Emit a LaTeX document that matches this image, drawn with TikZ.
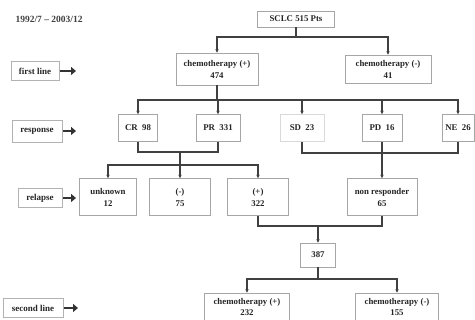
\documentclass[tikz,border=0pt]{standalone}
\usepackage{fontspec}
\setmainfont{Liberation Serif}
\usetikzlibrary{arrows.meta}
\begin{document}
\begin{tikzpicture}[x=1pt,y=-1pt,
  box/.style={draw=black!35,line width=0.6pt,fill=white,inner sep=1pt,align=center,
    font=\fontsize{8.8}{10}\selectfont\bfseries,text=black!85},
  lab/.style={draw=black!30,line width=0.6pt,fill=white,inner sep=1pt,
    font=\fontsize{9}{10}\selectfont\bfseries,text=black!85},
  conn/.style={draw=black!75,line width=1.3pt},
  tip/.style={conn,-{Stealth[length=3.5pt,width=3.5pt]}},
  big/.style={draw=black!80,line width=2.4pt,-{Triangle[length=5pt,width=8pt]}}]
\useasboundingbox (0,0) rectangle (475,320);
% date
\node[font=\fontsize{9.5}{10}\selectfont\bfseries,text=black!75,anchor=west] (date) at (12,19) {1992/7 -- 2003/12};
% nodes
\node[box,minimum width=77pt,minimum height=16pt] (sclc) at (296,19) {SCLC 515 Pts};
\node[box,minimum width=82pt,minimum height=32pt] (c1p) at (217,69) {chemotherapy (+)\\[2pt]474};
\node[box,minimum width=86pt,minimum height=28pt] (c1m) at (388,69) {chemotherapy (-)\\[2pt]41};
\node[box,minimum width=39pt,minimum height=27pt] (cr) at (138,128) {CR\ \ 98};
\node[box,minimum width=44pt,minimum height=27pt] (pr) at (218,128) {PR\ \ 331};
\node[box,minimum width=44pt,minimum height=27pt,draw=black!15] (sd) at (302,128) {SD\ \ 23};
\node[box,minimum width=40pt,minimum height=27pt] (pd) at (382,128) {PD\ \ 16};
\node[box,minimum width=32pt,minimum height=27pt] (ne) at (458,128) {NE\ \ 26};
\node[box,minimum width=57pt,minimum height=37pt] (unk) at (108,197) {unknown\\[2pt]12};
\node[box,minimum width=61pt,minimum height=37pt] (rm) at (180,197) {(-)\\[2pt]75};
\node[box,minimum width=61pt,minimum height=37pt] (rp) at (258,197) {(+)\\[2pt]322};
\node[box,minimum width=70pt,minimum height=37pt] (nr) at (382,197) {non responder\\[2pt]65};
\node[box,minimum width=35pt,minimum height=24pt] (n387) at (318,255) {387};
\node[box,minimum width=85pt,minimum height=28pt] (c2p) at (247,307) {chemotherapy (+)\\[1pt]232};
\node[box,minimum width=83pt,minimum height=28pt] (c2m) at (397,307) {chemotherapy (-)\\[1pt]155};
% left labels
\node[lab,minimum width=48pt,minimum height=19pt] (l1) at (35,71) {first line};
\node[lab,minimum width=50pt,minimum height=22pt] (l2) at (37,131) {response};
\node[lab,minimum width=44pt,minimum height=19pt] (l3) at (40,198) {relapse};
\node[lab,minimum width=60pt,minimum height=19pt] (l4) at (33,308) {second line};
\coordinate (a1) at (76,71);
\coordinate (a2) at (76,131);
\coordinate (a3) at (76,198);
\coordinate (a4) at (78,308);
\draw[big] (l1.east) ++(1pt,0) -- (a1);
\draw[big] (l2.east) ++(1pt,0) -- (a2);
\draw[big] (l3.east) ++(1pt,0) -- (a3);
\draw[big] (l4.east) ++(1pt,0) -- (a4);
% junctions
\coordinate (j1) at (296,37);
\coordinate (j2) at (217,100);
\coordinate (j3) at (180,152);
\coordinate (j4) at (180,165);
\coordinate (j5) at (382,153);
\coordinate (j6) at (318,226);
\coordinate (j7) at (318,279);
% connectors
\draw[conn] (sclc) -- (j1);
\draw[tip] (j1) -| (c1p);
\draw[tip] (j1) -| (c1m);
\draw[conn] (c1p) -- (j2);
\draw[tip] (j2) -| (cr);
\draw[tip] (j2) -| (pr);
\draw[tip] (j2) -| (sd);
\draw[tip] (j2) -| (pd);
\draw[tip] (j2) -| (ne);
\draw[conn] (cr) |- (j3) -| (pr);
\draw[conn] (j3) -- (j4);
\draw[tip] (j4) -| (unk);
\draw[tip] (j4) -- (rm);
\draw[tip] (j4) -| (rp);
\draw[conn] (sd) |- (j5) -| (ne);
\draw[tip] (pd) -- (nr);
\draw[conn] (rp) |- (j6) -| (nr);
\draw[tip] (j6) -- (n387);
\draw[conn] (n387) -- (j7);
\draw[tip] (j7) -| (c2p);
\draw[tip] (j7) -| (c2m);
\end{tikzpicture}
\end{document}
